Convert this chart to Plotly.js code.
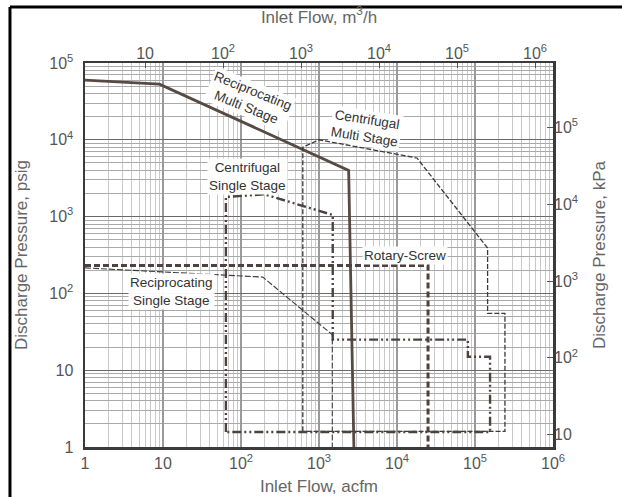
<!DOCTYPE html>
<html>
<head>
<meta charset="utf-8">
<script src="https://cdn.plot.ly/plotly-3.0.1.min.js"></script>
<style>html,body{margin:0;padding:0;background:#fff;}#chart{width:622px;height:497px;}</style>
</head>
<body>
<div id="chart"></div>
<script>
// ---- Data (Inlet Flow in acfm, Discharge Pressure in psig) ----
const recipMultiX = [1, 9, 2400, 2800];
const recipMultiY = [60000, 53000, 4000, 1];

const centMultiX = [620, 620, 1000, 18000, 145000, 145000, 242000, 242000, 620];
const centMultiY = [1.6, 8000, 10000, 5800, 390, 55, 55, 1.6, 1.6];

const centSingleX = [64, 64, 200, 1500, 1500, 81000, 81000, 156000, 156000, 64];
const centSingleY = [1.57, 1800, 1950, 1050, 25, 25, 15, 15, 1.57, 1.57];

const rotaryX = [1, 25000, 25000];
const rotaryY = [230, 230, 1];

const recipSingleX = [1, 190, 1480, 1480];
const recipSingleY = [215, 163, 29, 1];

// ---- Tick labels ----
const bottomTickVals = [1, 10, 100, 1e3, 1e4, 1e5, 1e6];
const bottomTickText = ['1', '10', '10<sup>2</sup>', '10<sup>3</sup>', '10<sup>4</sup>', '10<sup>5</sup>', '10<sup>6</sup>'];
const topTickVals = [10, 100, 1e3, 1e4, 1e5, 1e6];
const topTickText = ['10', '10<sup>2</sup>', '10<sup>3</sup>', '10<sup>4</sup>', '10<sup>5</sup>', '10<sup>6</sup>'];
const leftTickVals = [1, 10, 100, 1e3, 1e4, 1e5];
const leftTickText = ['1', '10', '10<sup>2</sup>', '10<sup>3</sup>', '10<sup>4</sup>', '10<sup>5</sup>'];
const rightTickVals = [10, 100, 1e3, 1e4, 1e5];
const rightTickText = ['10', '10<sup>2</sup>', '10<sup>3</sup>', '10<sup>4</sup>', '10<sup>5</sup>'];

// unit conversions for secondary axes
const ACFM_TO_M3H = 1.699;
const PSI_TO_KPA = 6.895;

// minor grid values (2..9 of every decade)
function minorVals(d0, d1) {
  const v = [];
  for (let d = d0; d < d1; d++) for (let k = 2; k <= 9; k++) v.push(k * Math.pow(10, d));
  return v;
}

const lineColor = '#4d423e';
const traces = [
  {x: recipMultiX, y: recipMultiY, mode: 'lines', line: {color: '#574a45', width: 2.8}},
  {x: centMultiX, y: centMultiY, mode: 'lines', line: {color: '#3a3a3a', width: 1.3, dash: '5px,2px'}},
  {x: centSingleX, y: centSingleY, mode: 'lines', line: {color: lineColor, width: 2.4, dash: '9px,3px,2px,3px,2px,3px'}},
  {x: rotaryX, y: rotaryY, mode: 'lines', line: {color: lineColor, width: 3, dash: '6px,3px'}},
  {x: recipSingleX, y: recipSingleY, mode: 'lines', line: {color: '#3a3a3a', width: 1.1, dash: '6px,2px'}},
  {x: [], y: [], xaxis: 'x2', yaxis: 'y2', mode: 'lines', hoverinfo: 'skip'}
];

const tickFont = {family: 'Liberation Sans, Arial, sans-serif', size: 16, color: '#555'};
const titleFont = {family: 'Liberation Sans, Arial, sans-serif', size: 17, color: '#666'};

const annFont = {family: 'Liberation Sans, Arial, sans-serif', size: 13.5, color: '#333'};
const annotations = [
  {x: Math.log10(130), y: Math.log10(33000), text: 'Reciprocating<br>Multi Stage', textangle: 22},
  {x: Math.log10(4000), y: Math.log10(14200), text: 'Centrifugal<br>Multi Stage', textangle: 9},
  {x: Math.log10(120), y: Math.log10(3300), text: 'Centrifugal<br>Single Stage', textangle: 0},
  {x: Math.log10(12600), y: Math.log10(316), text: 'Rotary-Screw', textangle: 0},
  {x: Math.log10(13), y: Math.log10(107), text: 'Reciprocating<br>Single Stage', textangle: 0}
].map(a => Object.assign({xref: 'x', yref: 'y', showarrow: false, font: annFont, bgcolor: 'rgba(255,255,255,0.95)', borderpad: 1}, a));

const layout = {
  width: 622, height: 497,
  margin: {l: 85, r: 69, t: 63, b: 50, pad: 0},
  paper_bgcolor: '#fff', plot_bgcolor: '#fff',
  showlegend: false,
  font: {family: 'Liberation Sans, Arial, sans-serif', color: '#555', size: 14},
  xaxis: {
    type: 'log', range: [0, 6], automargin: false,
    tickmode: 'array', tickvals: bottomTickVals, ticktext: bottomTickText, tickfont: tickFont,
    ticks: '', showgrid: true, gridcolor: '#9a9a9a', gridwidth: 1.2, zeroline: false,
    minor: {tickmode: 'array', tickvals: minorVals(0, 6), showgrid: true, gridcolor: '#c9c9c9', gridwidth: 1, ticks: ''},
    showline: true, linecolor: '#3a3a3a', linewidth: 2.5, mirror: true,
    title: {text: 'Inlet Flow, acfm', font: titleFont, standoff: 10}
  },
  xaxis2: {
    type: 'log', overlaying: 'x', side: 'top', anchor: 'y', automargin: false,
    range: [Math.log10(ACFM_TO_M3H), 6 + Math.log10(ACFM_TO_M3H)],
    tickmode: 'array', tickvals: topTickVals, ticktext: topTickText, tickfont: tickFont,
    ticks: 'inside', ticklen: 5, tickcolor: '#555', showgrid: false, zeroline: false,
    title: {text: 'Inlet Flow, m<sup>3</sup>/h', font: titleFont, standoff: 14}
  },
  yaxis: {
    type: 'log', range: [0, 5], automargin: false,
    tickmode: 'array', tickvals: leftTickVals, ticktext: leftTickText, tickfont: tickFont,
    ticks: '', ticklabelstandoff: 6, showgrid: true, gridcolor: '#6a6a6a', gridwidth: 1.2, zeroline: false,
    minor: {tickmode: 'array', tickvals: minorVals(0, 5), showgrid: true, gridcolor: '#a9a9a9', gridwidth: 1, ticks: ''},
    showline: true, linecolor: '#3a3a3a', linewidth: 2.5, mirror: true,
    title: {text: 'Discharge Pressure, psig', font: titleFont, standoff: 18}
  },
  yaxis2: {
    type: 'log', overlaying: 'y', side: 'right', anchor: 'x', automargin: false,
    range: [Math.log10(PSI_TO_KPA), 5 + Math.log10(PSI_TO_KPA)],
    tickmode: 'array', tickvals: rightTickVals, ticktext: rightTickText, tickfont: tickFont,
    ticks: 'inside', ticklen: 6, tickcolor: '#555', showgrid: false, zeroline: false,
    title: {text: 'Discharge Pressure, kPa', font: titleFont, standoff: 16}
  },
  annotations: annotations,
  shapes: [
    {type: 'line', xref: 'paper', yref: 'paper', x0: -0.1603, x1: -0.1603, y0: 1.1458, y1: -0.14, line: {color: '#000', width: 3}},
    {type: 'line', xref: 'paper', yref: 'paper', x0: -0.1603, x1: 1.16, y0: 1.1458, y1: 1.1458, line: {color: '#000', width: 3}}
  ]
};

Plotly.newPlot('chart', traces, layout, {displayModeBar: false, staticPlot: true});
</script>
</body>
</html>
